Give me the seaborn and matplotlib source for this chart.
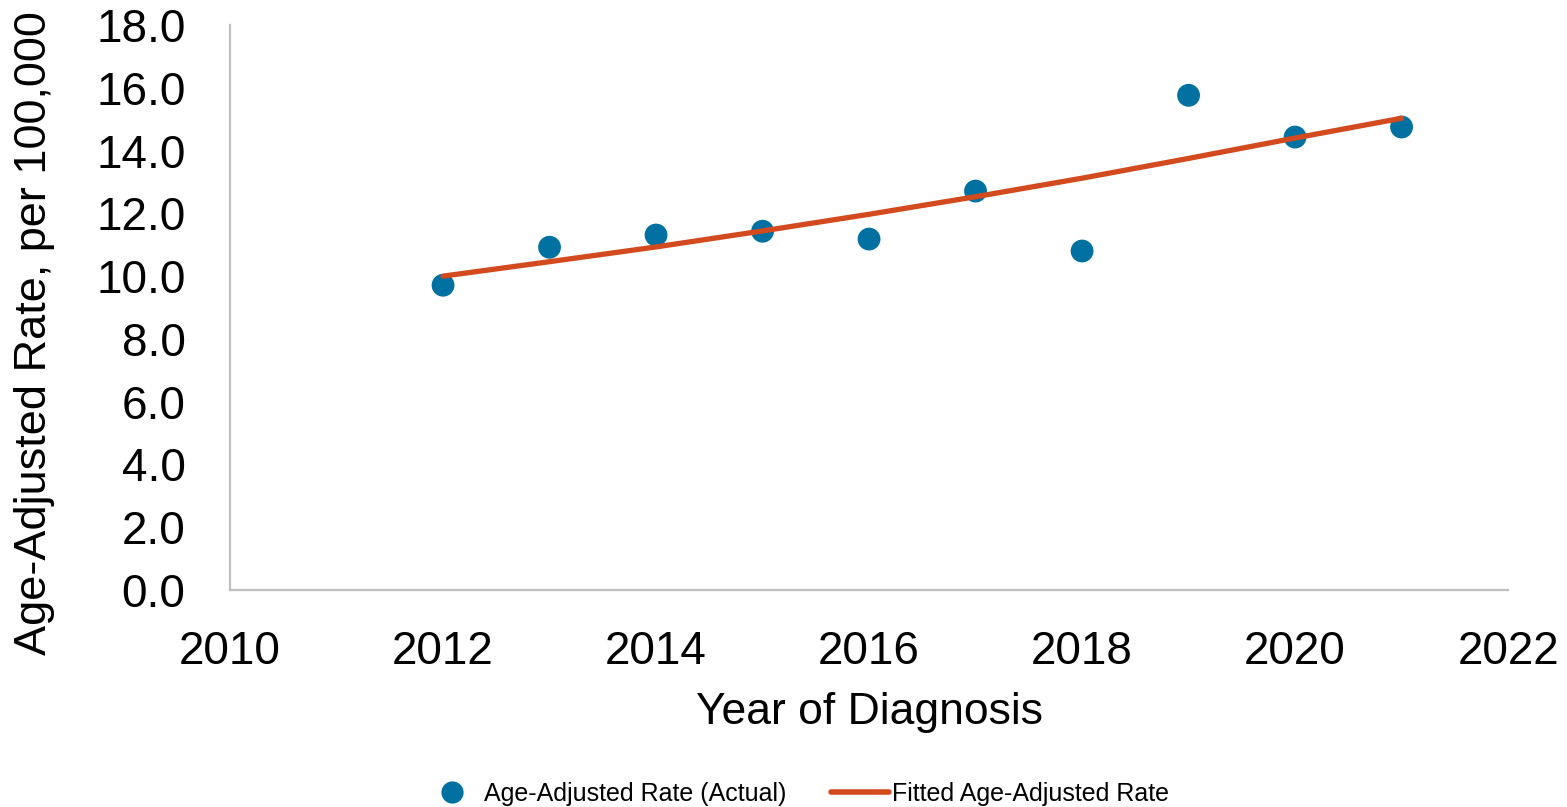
import matplotlib
matplotlib.use("Agg")
import matplotlib.pyplot as plt
import seaborn as sns
import pandas as pd
from matplotlib.lines import Line2D

years = [2012, 2013, 2014, 2015, 2016, 2017, 2018, 2019, 2020, 2021]
actual_rate = [9.71, 10.92, 11.31, 11.43, 11.18, 12.71, 10.80, 15.76, 14.43, 14.75]
fitted_rate = [10.00, 10.46, 10.93, 11.44, 11.97, 12.53, 13.12, 13.75, 14.40, 15.03]
x_ticks = [2010, 2012, 2014, 2016, 2018, 2020, 2022]
y_ticks = [0, 2, 4, 6, 8, 10, 12, 14, 16, 18]

df = pd.DataFrame({"Year": years, "Actual": actual_rate, "Fitted": fitted_rate})

sns.set_style("white")
plt.rcParams['font.family'] = ['Liberation Sans', 'DejaVu Sans']
plt.rcParams['text.color'] = 'black'
plt.rcParams['axes.labelcolor'] = 'black'

blue = "#0071A1"
orange = "#D34A1F"

fig = plt.figure(figsize=(15.67, 8.07), dpi=100)
ax = fig.add_axes([0.1468, 0.2689, 0.8156, 0.7001])

sns.lineplot(data=df, x="Year", y="Fitted", ax=ax, color=orange, linewidth=3.8,
             solid_capstyle="round", zorder=3)
sns.scatterplot(data=df, x="Year", y="Actual", ax=ax, color=blue, s=270,
                edgecolor="none", zorder=2)

ax.set_xlim(2010, 2022)
ax.set_ylim(0, 18)
ax.set_xticks(x_ticks)
ax.set_yticks(y_ticks)
ax.set_yticklabels([f"{v:.1f}" for v in y_ticks])
ax.tick_params(axis="both", labelsize=33, length=0, colors="black")
ax.tick_params(axis="y", pad=32)
ax.tick_params(axis="x", pad=29)
ax.set_xlabel("Year of Diagnosis", fontsize=32, color="black")
ax.xaxis.set_label_coords(0.5, -0.18)
ax.set_ylabel("Age-Adjusted Rate, per 100,000", fontsize=32.5, color="black")
ax.yaxis.set_label_coords(-0.137, 0.455)

for s in ["top", "right"]:
    ax.spines[s].set_visible(False)
for s in ["left", "bottom"]:
    ax.spines[s].set_color("#BFBFBF")
    ax.spines[s].set_linewidth(1.6)

handles = [
    Line2D([], [], linestyle="none", marker="o", markersize=16, color=blue,
           markeredgecolor="none"),
    Line2D([], [], color=orange, linewidth=4, solid_capstyle="round"),
]
labels = ["Age-Adjusted Rate (Actual)", "Fitted Age-Adjusted Rate"]
fig.legend(handles, labels, loc="center", bbox_to_anchor=(0.508, 0.016), ncol=2,
           frameon=False, prop={"family": ["Liberation Sans"], "size": 18},
           handlelength=2.3, handletextpad=0.12, columnspacing=1.8)

fig.savefig("out.png", dpi=100)
